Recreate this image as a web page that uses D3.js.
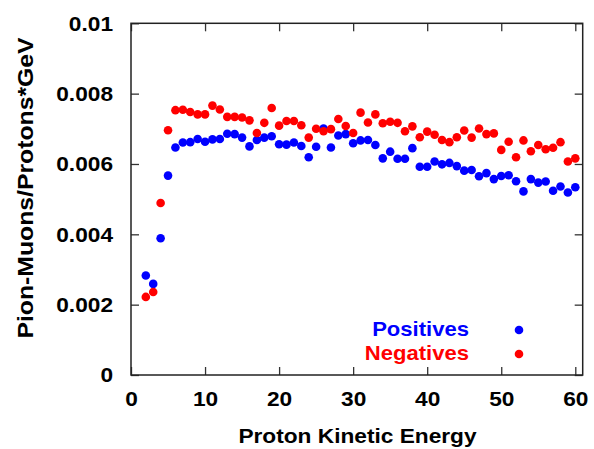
<!doctype html>
<html lang="en">
<head>
<meta charset="UTF-8">
<title>Pion-Muons per Proton</title>
<script src="https://d3js.org/d3.v7.min.js"></script>
<style>
    body { margin: 0; background: #fff; }
    text { font-family: "Liberation Sans", Arial, sans-serif; font-weight: bold; }
</style>
</head>
<body>
<div id="chart-area"></div>

<script>
// proton kinetic energy (GeV)
const energy = [2, 3, 4, 5, 6, 7, 8, 9, 10, 11, 12, 13, 14, 15, 16, 17, 18, 19, 20,
    21, 22, 23, 24, 25, 26, 27, 28, 29, 30, 31, 32, 33, 34, 35, 36, 37, 38, 39, 40,
    41, 42, 43, 44, 45, 46, 47, 48, 49, 50, 51, 52, 53, 54, 55, 56, 57, 58, 59, 60];

const positives = [0.00283, 0.00259, 0.00389, 0.00567, 0.00647, 0.00661, 0.00662, 0.00671, 0.00663,
    0.00670, 0.00671, 0.00686, 0.00685, 0.00675, 0.00650, 0.00668, 0.00675, 0.00679, 0.00656,
    0.00655, 0.00661, 0.00651, 0.00619, 0.00649, 0.00701, 0.00647, 0.00681, 0.00685, 0.00659,
    0.00667, 0.00668, 0.00654, 0.00616, 0.00635, 0.00615, 0.00615, 0.00645, 0.00592, 0.00592,
    0.00607, 0.00599, 0.00603, 0.00594, 0.00581, 0.00583, 0.00565, 0.00574, 0.00557, 0.00566,
    0.00568, 0.00551, 0.00522, 0.00557, 0.00547, 0.00550, 0.00524, 0.00536, 0.00519, 0.00534];

const negatives = [0.00222, 0.00236, 0.00489, 0.00696, 0.00753, 0.00754, 0.00748, 0.00741, 0.00741,
    0.00766, 0.00755, 0.00734, 0.00734, 0.00732, 0.00724, 0.00688, 0.00717, 0.00759, 0.00709,
    0.00722, 0.00722, 0.00710, 0.00675, 0.00700, 0.00693, 0.00699, 0.00728, 0.00708, 0.00688,
    0.00746, 0.00718, 0.00741, 0.00716, 0.00720, 0.00717, 0.00693, 0.00707, 0.00676, 0.00692,
    0.00683, 0.00668, 0.00662, 0.00676, 0.00695, 0.00675, 0.00701, 0.00685, 0.00687, 0.00640,
    0.00663, 0.00619, 0.00667, 0.00636, 0.00654, 0.00642, 0.00646, 0.00662, 0.00607, 0.00616];

const xTicks = [0, 10, 20, 30, 40, 50, 60];
const yTicks = [0, 0.002, 0.004, 0.006, 0.008, 0.01];

const W = 594, H = 449;
const plotL = 131, plotR = 582.7, plotT = 23.3, plotB = 375;
const stretch = 1.08;   // the original lettering is a bit wide

const svg = d3.select('#chart-area')
    .append('svg')
    .attr('width', W)
    .attr('height', H);

const x = d3.scaleLinear().domain([0, 61]).range([plotL, plotR]);
const y = d3.scaleLinear().domain([0, 0.01]).range([plotB, plotT]);

const fmt = d => d === 0 ? '0' : String(+d.toFixed(3));

// widen text horizontally
function widen(sel, k) {
    sel.each(function () {
        const len = this.getComputedTextLength();
        d3.select(this)
            .attr('textLength', len * k)
            .attr('lengthAdjust', 'spacingAndGlyphs');
    });
}

function styleAxis(g) {
    g.selectAll('.tick line').attr('stroke', '#333').attr('stroke-width', 1.3);
    g.selectAll('.tick text').attr('font-size', 21).attr('fill', '#000').call(widen, stretch);
    g.select('.domain').remove();
}

svg.append('g')
    .attr('transform', `translate(0,${plotB})`)
    .call(d3.axisBottom(x).tickValues(xTicks).tickSizeInner(-8).tickSizeOuter(0).tickPadding(16))
    .call(styleAxis);

svg.append('g')
    .attr('transform', `translate(0,${plotT})`)
    .call(d3.axisTop(x).tickValues(xTicks).tickSizeInner(-8).tickSizeOuter(0).tickFormat(''))
    .call(styleAxis);

svg.append('g')
    .attr('transform', `translate(${plotL},0)`)
    .call(d3.axisLeft(y).tickValues(yTicks).tickSizeInner(-8).tickSizeOuter(0).tickPadding(18).tickFormat(fmt))
    .call(styleAxis);

svg.append('g')
    .attr('transform', `translate(${plotR},0)`)
    .call(d3.axisRight(y).tickValues(yTicks).tickSizeInner(-8).tickSizeOuter(0).tickFormat(''))
    .call(styleAxis);

// frame
svg.append('rect')
    .attr('x', plotL).attr('y', plotT)
    .attr('width', plotR - plotL).attr('height', plotB - plotT)
    .attr('fill', 'none')
    .attr('stroke', '#222')
    .attr('stroke-width', 1.5);

// points
const series = [
    { name: 'Positives', values: positives, color: '#0000ff' },
    { name: 'Negatives', values: negatives, color: '#ff0000' }
];

series.forEach(s => {
    svg.append('g')
        .selectAll('circle')
        .data(energy)
        .enter()
        .append('circle')
            .attr('cx', d => x(d))
            .attr('cy', (d, i) => y(s.values[i]))
            .attr('r', 4.3)
            .attr('fill', s.color);
});

// legend
series.forEach((s, i) => {
    const ly = 329 + i * 24;
    svg.append('text')
        .attr('x', 469).attr('y', ly)
        .attr('dy', '0.35em')
        .attr('text-anchor', 'end')
        .attr('font-size', 21)
        .attr('fill', s.color)
        .text(s.name)
        .call(widen, 1.05);
    svg.append('circle')
        .attr('cx', 519).attr('cy', ly + 1)
        .attr('r', 4.3)
        .attr('fill', s.color);
});

// axis titles
svg.append('text')
    .attr('x', 357.5).attr('y', 443)
    .attr('text-anchor', 'middle')
    .attr('font-size', 21)
    .text('Proton Kinetic Energy')
    .call(widen, stretch);

svg.append('text')
    .attr('transform', 'translate(33,188) rotate(-90)')
    .attr('text-anchor', 'middle')
    .attr('font-size', 22.5)
    .text('Pion-Muons/Protons*GeV')
    .call(widen, 1.1);
</script>
</body>
</html>
